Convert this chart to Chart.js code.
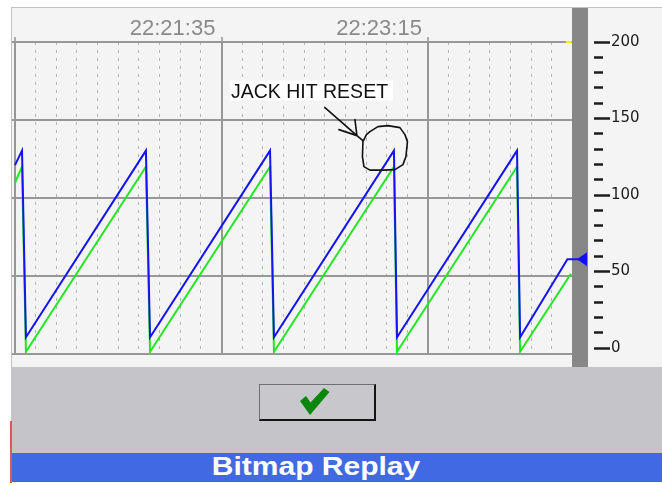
<!DOCTYPE html>
<html>
<head>
<meta charset="utf-8">
<script src="https://cdn.jsdelivr.net/npm/chart.js@4/dist/chart.umd.min.js"></script>
<style>
  html, body { margin: 0; padding: 0; background: #ffffff; }
  #wrap { position: relative; width: 662px; height: 485px; overflow: hidden; }
  #panel { position: absolute; left: 11px; top: 7px; width: 651px; height: 360px; box-sizing: border-box;
           background: #f4f4f4; border-top: 1px solid #c2c2c2; border-left: 1px solid #c2c2c2; }
  #chart { position: absolute; left: 0; top: 0; }
  #lower { position: absolute; left: 11px; top: 367px; width: 651px; height: 86px; background: #c5c4c8; }
  #okbtn { position: absolute; left: 259px; top: 384px; width: 117px; height: 37px; box-sizing: border-box;
           background: #c8c7cb; border-top: 1px solid #707070; border-left: 1px solid #707070;
           border-right: 2px solid #151515; border-bottom: 2px solid #151515; }
  #okbtn svg { position: absolute; left: 40px; top: 3px; }
  #titlebar { position: absolute; left: 11px; top: 453px; width: 651px; height: 29px; background: #4169e1; }
  #titletext { position: absolute; left: 316px; top: 452px; line-height: 29px; white-space: nowrap;
               transform: translateX(-50%) scaleX(1.2); color: #ffffff;
               font: bold 25px "Liberation Sans", Arial, sans-serif; }
  #redline { position: absolute; left: 10px; top: 421px; width: 2px; height: 62px; background: #d85a5a; }
</style>
</head>
<body>
<div id="wrap">
  <div id="panel"></div>
  <canvas id="chart" width="662" height="367"></canvas>
  <div id="lower"></div>
  <div id="okbtn">
    <svg width="30" height="28" viewBox="0 0 30 28">
      <polygon points="0,13 6,8 10.5,14.5 24,0 29.5,4 10,27" fill="#0a870a"/>
    </svg>
  </div>
  <div id="titlebar"></div>
  <div id="titletext">Bitmap Replay</div>
  <div id="redline"></div>
</div>
<script>
// Pen traces, time in seconds after 22:19:55, values on the 0–200 scale
const blueTimes   = [0, 3.4, 5.3, 63.4, 65.4, 123.5, 125.4, 183.5, 185.0, 243.1, 244.6, 267.5, 273.6];
const blueValues  = [119.5, 129, 7, 129, 7, 129, 7, 129, 7, 129, 7, 58, 58];
const greenTimes  = [0, 3.4, 5.3, 63.4, 65.4, 123.5, 125.4, 183.5, 185.0, 243.1, 244.6, 269.2];
const greenValues = [108, 118.5, -2.5, 118.5, -2.5, 118.5, -2.5, 118.5, -2.5, 118.5, -2.5, 48.5];
const yellowTimes  = [266.8, 269.5];
const yellowValues = [200, 200];

// Axis ticks
const timeTickValues = [0, 100, 200];
const timeTickLabels = ['', '22:21:35 ', '22:23:15 '];
const scaleLabels = [0, 50, 100, 150, 200];

// Peak where the reset happened (index into the blue trace)
const resetIndex = 7;

const toPoints = (ts, vs) => ts.map((t, i) => ({ x: t, y: vs[i] }));

const minorSeconds = [];
for (let s = 0; s <= 270; s += 10) minorSeconds.push(s);
const scaleSteps = [];
for (let v = 0; v <= 200; v += 10) scaleSteps.push(v);

const GRID = '#979797';

// Dark divider bar between the trend area and the value scale
const dividerBar = {
  id: 'dividerBar',
  beforeDatasetsDraw(chart) {
    const { ctx, chartArea } = chart;
    ctx.save();
    ctx.fillStyle = '#878787';
    ctx.fillRect(chartArea.right - 8, 8, 16, chart.height - 8);
    ctx.restore();
  }
};

// Current-value pointer and the hand-written note
const overlay = {
  id: 'overlay',
  afterDraw(chart) {
    const { ctx, chartArea, scales } = chart;
    const x = scales.x, y = scales.y;

    // pointer at the last blue value
    const py = y.getPixelForValue(blueValues[blueValues.length - 1]);
    const r = chartArea.right;
    ctx.save();
    ctx.fillStyle = '#1010f0';
    ctx.beginPath();
    ctx.moveTo(r - 3, py);
    ctx.lineTo(r + 7, py - 7);
    ctx.lineTo(r + 7, py + 7);
    ctx.closePath();
    ctx.fill();

    // note around the reset peak
    const px = x.getPixelForValue(blueTimes[resetIndex]);
    const qy = y.getPixelForValue(blueValues[resetIndex]);

    ctx.fillStyle = '#ffffff';
    ctx.fillRect(px - 164, qy - 70, 163, 20);
    ctx.fillStyle = '#111111';
    ctx.font = '19.5px "Liberation Sans", Arial, sans-serif';
    ctx.textBaseline = 'alphabetic';
    ctx.textAlign = 'left';
    ctx.fillText('JACK HIT RESET', px - 163, qy - 52.5);

    ctx.strokeStyle = '#111111';
    ctx.lineWidth = 1.6;
    ctx.lineJoin = 'round';
    ctx.lineCap = 'round';
    // arrow
    ctx.beginPath();
    ctx.moveTo(px - 69, qy - 43);
    ctx.lineTo(px - 37, qy - 15);
    ctx.lineTo(px - 31, qy - 10);
    ctx.moveTo(px - 37, qy - 15);
    ctx.lineTo(px - 55, qy - 21);
    ctx.moveTo(px - 37, qy - 15);
    ctx.lineTo(px - 39, qy - 31);
    ctx.stroke();
    // loop
    const loop = [[-24, -19], [-16, -24], [-6, -25], [6, -23], [11, -16], [13.5, -9], [12, 6],
                  [9, 14], [1, 19], [-11, 19.5], [-24, 19.5], [-30, 16], [-31.5, 6], [-31, -9], [-27.5, -16]];
    ctx.beginPath();
    loop.forEach(([dx, dy], i) => {
      if (i === 0) ctx.moveTo(px + dx, qy + dy); else ctx.lineTo(px + dx, qy + dy);
    });
    ctx.closePath();
    ctx.stroke();
    ctx.restore();
  }
};

const trace = (label, ts, vs, color) => ({
  label, data: toPoints(ts, vs), xAxisID: 'x', yAxisID: 'y',
  borderColor: color, borderWidth: 2, pointRadius: 0, tension: 0, clip: 4
});

new Chart(document.getElementById('chart'), {
  type: 'line',
  data: {
    datasets: [
      trace('Pen 1', blueTimes, blueValues, '#1414ee'),
      trace('Pen 2', greenTimes, greenValues, '#22e622'),
      trace('Pen 3', yellowTimes, yellowValues, '#f2f200')
    ]
  },
  options: {
    responsive: false,
    animation: false,
    devicePixelRatio: 1,
    layout: { padding: { left: 12, top: 0, right: 0, bottom: 13 } },
    plugins: { legend: { display: false }, tooltip: { enabled: false } },
    scales: {
      x: {
        type: 'linear', position: 'top', min: 0, max: 273.6,
        afterBuildTicks: s => { s.ticks = timeTickValues.map(v => ({ value: v })); },
        afterFit: s => { s.height = 42; },
        grid: { color: GRID, lineWidth: 2, tickLength: 5, tickColor: GRID, tickWidth: 1.5 },
        border: { display: false },
        ticks: {
          align: 'end', padding: -3, maxRotation: 0, autoSkip: false, color: '#8a8a8a',
          font: { family: '"Liberation Sans", Arial, sans-serif', size: 22, lineHeight: 1 },
          callback: (v, i) => timeTickLabels[i]
        }
      },
      xm: {
        type: 'linear', position: 'top', min: 0, max: 273.6,
        afterBuildTicks: s => { s.ticks = minorSeconds.map(v => ({ value: v })); },
        afterFit: s => { s.height = 0; },
        grid: { color: c => (c.tick && c.tick.value % 100 === 0) ? 'rgba(0,0,0,0)' : '#b3b3b3',
                lineWidth: 1, drawTicks: false },
        border: { display: false, dash: [3, 5] },
        ticks: { display: false }
      },
      g: {
        type: 'linear', position: 'left', min: 0, max: 4,
        afterBuildTicks: s => { s.ticks = [0, 1, 2, 3, 4].map(v => ({ value: v })); },
        afterFit: s => { s.width = 3; },
        grid: { color: GRID, lineWidth: 2, tickLength: 3, tickColor: GRID, tickWidth: 2 },
        border: { display: false },
        ticks: { display: false }
      },
      y: {
        type: 'linear', position: 'right', min: -3.92, max: 200,
        afterBuildTicks: s => { s.ticks = scaleSteps.map(v => ({ value: v })); },
        afterFit: s => { s.width = 82; },
        grid: {
          drawOnChartArea: false, tickLength: 30, tickColor: '#1c1c1c', tickWidth: 2.5,
          tickBorderDash: c => scaleLabels.includes(c.tick.value) ? [0, 14, 16, 100] : [0, 14, 9, 100]
        },
        border: { display: false },
        ticks: {
          padding: 1, color: '#1c1c1c', autoSkip: false,
          font: { family: '"DejaVu Sans", sans-serif', size: 15 },
          callback: v => scaleLabels.includes(v) ? String(v) : ''
        }
      }
    }
  },
  plugins: [dividerBar, overlay]
});
</script>
</body>
</html>
